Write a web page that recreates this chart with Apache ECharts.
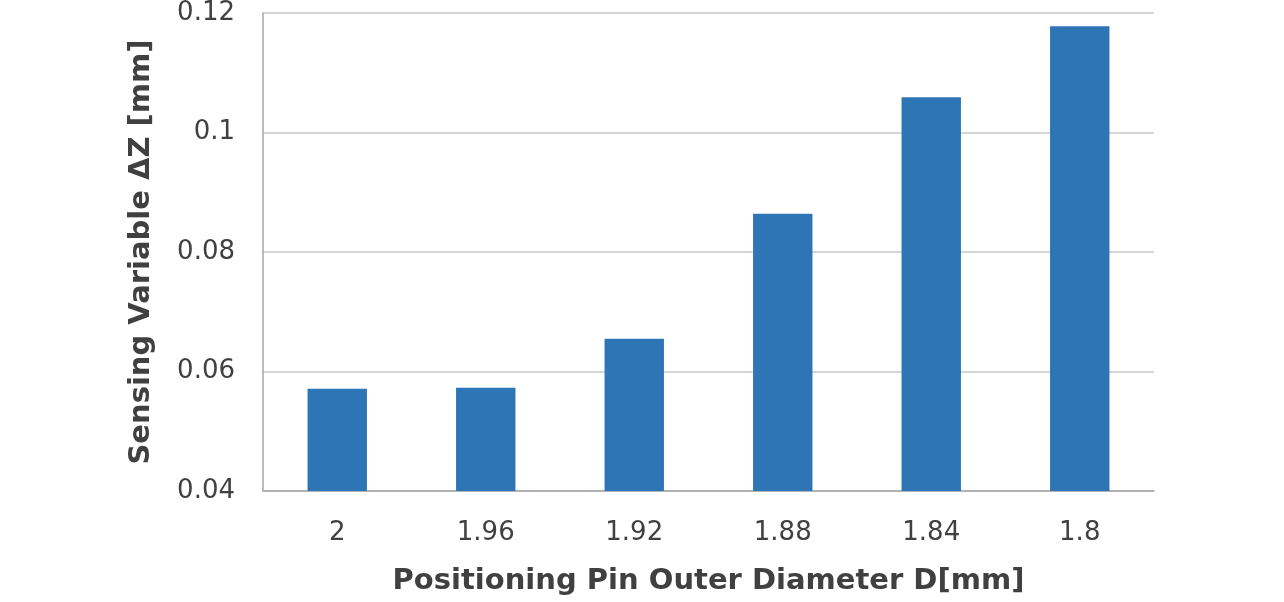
<!DOCTYPE html>
<html>
<head>
<meta charset="utf-8">
<script src="https://cdn.jsdelivr.net/npm/echarts@6/dist/echarts.min.js"></script>
<style>html,body{margin:0;padding:0;background:#fff}#c{width:1284px;height:602px}</style>
</head>
<body>
<div id="c"></div>
<script>
const categories = ['2', '1.96', '1.92', '1.88', '1.84', '1.8'];
const values = [0.0571, 0.0573, 0.0655, 0.0864, 0.1059, 0.1178];
const yTicks = [0.04, 0.06, 0.08, 0.1, 0.12];
const xTitle = 'Positioning Pin Outer Diameter D[mm]';
const yTitle = 'Sensing Variable ΔZ [mm]';

const chart = echarts.init(document.getElementById('c'), null, {renderer: 'canvas'});
const font = '"DejaVu Sans", Verdana, sans-serif';
chart.setOption({
  animation: false,
  grid: {left: 263, right: 130, top: 12, bottom: 111, containLabel: false},
  xAxis: {
    type: 'category',
    data: categories,
    axisLine: {lineStyle: {color: '#a6a6a6', width: 1.5}},
    axisTick: {show: false},
    axisLabel: {color: '#404040', fontSize: 26, fontFamily: font, margin: 29},
    name: xTitle,
    nameLocation: 'middle',
    nameGap: 76,
    nameTextStyle: {color: '#404040', fontSize: 29, fontWeight: 'bold', fontFamily: font}
  },
  yAxis: {
    type: 'value',
    min: 0.04,
    max: 0.12,
    interval: 0.02,
    axisLine: {show: true, lineStyle: {color: '#a6a6a6', width: 1.5}},
    axisTick: {show: false},
    splitLine: {lineStyle: {color: '#c8c8c8', width: 1.5}},
    axisLabel: {
      color: '#404040', fontSize: 26, fontFamily: font, margin: 28,
      formatter: v => { const t = yTicks.find(x => Math.abs(x - v) < 1e-9); return t === undefined ? '' : String(t); }
    },
    name: yTitle,
    nameLocation: 'middle',
    nameGap: 107,
    nameTextStyle: {color: '#404040', fontSize: 29, fontWeight: 'bold', fontFamily: font}
  },
  series: [{
    type: 'bar',
    data: values,
    barWidth: '40%',
    itemStyle: {color: '#2e75b6'}
  }]
});
</script>
</body>
</html>
